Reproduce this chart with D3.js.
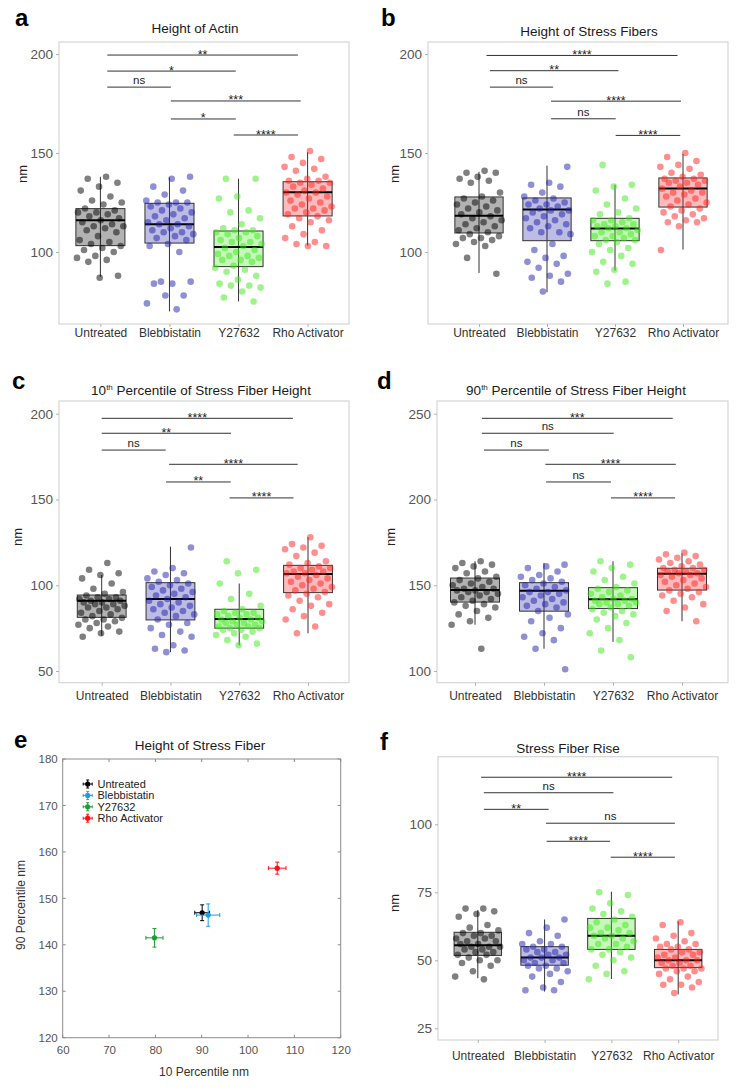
<!DOCTYPE html>
<html><head><meta charset="utf-8">
<script src="https://cdn.jsdelivr.net/npm/d3@7"></script>
<style>
body{margin:0;background:#fff}
svg{display:block}
text{font-family:"Liberation Sans",Arial,Helvetica,sans-serif}
</style>
</head><body>
<svg id="chart" width="738" height="1090"></svg>
<script>
// ---------------- DATA ----------------
const categories = ["Untreated", "Blebbistatin", "Y27632", "Rho Activator"];

// Panel a: Height of Actin (nm)
const actinUntreated = [138,137,135,133,131,128,126,125,124,122,121,120,120,119,118,117,116,115,114,113,113,112,111,110,108,106,105,104,103,102,101,100,98,97,96,95,88,87];
const actinBlebbistatin = [138,137,133,131,129,126,125,125,125,124,123,122,121,120,119,118,117,116,115,114,114,113,112,111,110,110,109,108,107,106,104,103,100,85,85,84,84,78,78,74,71];
const actinY27632 = [137,137,128,127,121,120,117,114,112,111,111,110,110,109,108,107,106,105,105,104,103,102,101,100,99,98,98,97,96,96,95,93,92,91,90,88,86,84,83,83,82,80,77,75];
const actinRho = [151,148,147,145,143,142,141,138,137,136,136,135,135,134,133,132,131,130,130,129,128,127,126,125,124,123,122,122,121,120,119,118,117,116,115,113,111,109,107,105,104,103,103];
// box stats: [q1, median, q3, whiskerLow, whiskerHigh]
const actinBoxes = [[103.2,116,121.9,87.5,138],[104.5,114,124.6,70,137.7],[92.6,102.5,110.6,75,137],[118.2,130.2,135.5,103.2,150.4]];
// significance: [fromIndex, toIndex, yValue, label]
const actinSig = [[0.1,2.86,199.5,"**"],[0.1,1.96,191.4,"*"],[0.1,1.02,183.3,"ns"],[1.02,2.9,176.3,"***"],[1.02,1.96,167.2,"*"],[1.93,2.86,159.1,"****"]];

// Panel b: Height of Stress Fibers (nm)
const fiberUntreated = [141,140,140,138,137,136,135,130,128,127,126,125,124,123,122,121,120,119,118,117,116,115,114,113,112,111,110,109,108,107,107,106,105,104,103,97,89];
const fiberBlebbistatin = [143,135,134,133,130,128,127,126,125,124,124,123,122,121,121,120,119,118,117,116,115,114,113,112,110,110,109,104,101,98,97,95,94,92,89,88,87,85,80];
const fiberY27632 = [144,134,133,131,127,124,122,120,119,117,116,116,115,114,114,113,113,112,112,111,110,110,109,108,108,107,106,106,105,104,102,101,100,98,95,94,91,90,85,84];
const fiberRho = [150,148,146,144,143,142,140,139,138,137,137,136,136,135,135,134,133,132,131,130,130,129,128,127,126,125,124,123,122,121,120,119,118,117,116,115,115,113,101];
const fiberBoxes = [[109.6,118.3,127.8,89.4,140.5],[105.7,121.4,127.3,79.6,143.6],[105.7,111.8,117,90.6,134],[122.7,132.1,137.4,101.2,149.6]];
const fiberSig = [[0.11,2.92,199.3,"****"],[0.16,2.05,191.6,"**"],[0.16,1.09,183.3,"ns"],[1.06,2.97,176.2,"****"],[1.06,2.01,167.3,"ns"],[2.01,2.96,158.9,"****"]];

// Panel c: 10th percentile of stress fiber height (nm)
const p10Untreated = [113,109,107,106,104,101,98,96,95,94,93,93,92,92,91,91,90,90,89,89,88,87,87,86,85,84,83,82,81,80,80,79,78,77,76,75,73,72,70];
const p10Blebbistatin = [122,110,108,107,106,104,103,102,101,100,99,98,97,96,95,94,93,92,91,90,89,88,87,86,85,84,83,82,80,78,77,75,73,71,70,65,63,62,61];
const p10Y27632 = [114,109,107,101,95,92,88,86,85,84,84,83,83,82,81,81,80,80,79,79,78,78,77,77,76,76,75,75,74,74,73,72,71,70,68,66,65];
const p10Rho = [128,124,123,122,121,119,117,114,113,112,111,110,110,109,108,108,107,107,106,105,104,103,102,101,100,99,98,97,96,95,94,93,91,89,88,86,84,82,80,76,72];
const p10Boxes = [[81.3,90.9,94.3,70.5,106],[79.8,92,101.5,61,122.5],[75,80.4,86,65,101],[95.7,106.6,111.6,72,128]];
const p10Sig = [[0,2.78,197.3,"****"],[0,1.88,188.6,"**"],[0,0.93,178.8,"ns"],[0.98,2.85,170.5,"****"],[0.935,1.876,160.2,"**"],[1.86,2.79,150.9,"****"]];

// Panel d: 90th percentile of stress fiber height (nm)
const p90Untreated = [164,163,162,161,160,158,157,155,154,153,152,151,150,149,148,148,147,147,146,146,145,144,143,142,141,140,139,138,137,135,133,131,129,127,113];
const p90Blebbistatin = [162,161,160,158,156,155,154,153,152,151,150,149,148,147,146,146,145,144,143,142,141,140,139,138,137,135,133,131,129,125,122,120,118,113,101];
const p90Y27632 = [164,162,160,158,155,153,151,149,148,147,146,145,144,143,142,142,141,141,140,140,139,139,138,137,136,135,134,133,132,130,128,125,122,118,112,108];
const p90Rho = [169,168,167,166,165,164,163,162,161,160,160,159,159,158,158,157,157,156,156,155,154,153,152,151,150,149,148,147,146,145,144,143,141,139,137,135,129];
const p90Boxes = [[140.2,147.2,154.2,127,164],[134.9,146.8,151.5,113,163],[136.4,141.9,148.6,117,164],[147.2,156.7,159.9,129,168.6]];
const p90Sig = [[0.1,2.865,247.3,"***"],[0.1,2.01,238.6,"ns"],[0.13,1.07,228.8,"ns"],[1.02,2.91,220.5,"****"],[1.03,1.97,210.2,"ns"],[1.97,2.9,200.9,"****"]];

// Panel e: mean 10th vs 90th percentile with error bars
const scatterX = [90.1, 91.4, 79.8, 106.3];
const scatterY = [146.9, 146.4, 141.5, 156.5];
const scatterXErr = [1.6, 2.5, 1.85, 1.9];
const scatterYErr = [1.7, 2.4, 2.0, 1.3];
const scatterXTicks = [60,70,80,90,100,110,120];
const scatterYTicks = [120,130,140,150,160,170,180];

// Panel f: Stress Fiber Rise (nm)
const riseUntreated = [69,69,68,67,66,63,62,61,60,60,59,59,58,58,57,57,56,56,55,55,55,54,54,53,53,52,52,51,50,50,49,48,46,44,43];
const riseBlebbistatin = [65,62,60,59,57,56,56,55,55,54,54,53,53,52,52,51,51,51,50,50,49,49,48,48,47,47,46,45,44,42,40,39,39];
const riseY27632 = [75,74,71,69,68,67,66,65,64,63,62,62,61,60,60,59,59,58,58,57,56,56,55,54,54,53,52,51,50,48,46,45,43];
const riseRho = [64,63,60,59,58,57,56,56,55,55,54,54,53,53,52,52,51,51,50,50,50,49,49,48,48,47,47,47,46,46,45,44,43,42,41,41,40,38];
const riseBoxes = [[51.8,55.5,60.3,43.4,68.5],[48.2,51,55,38.5,65],[54,59,65.4,43.1,75.2],[47.3,50,54,37.5,64.3]];
const riseSig = [[0.05,2.91,117.3,"****"],[0.09,2.03,111.6,"ns"],[0.09,1.06,105.5,"**"],[1.02,2.95,100.4,"ns"],[1.03,1.98,93.75,"****"],[1.99,2.95,87.9,"****"]];

const ticksAB = [100,150,200];
const ticksC = [50,100,150,200];
const ticksD = [100,150,200,250];
const ticksF = [25,50,75,100];

// ---------------- STYLE ----------------
const baseColors = ["#000000","#2020a8","#3fe81a","#ff1f1f"];
const scatterColors = ["#000000","#1b9fe2","#16a033","#ff1010"];
const svg = d3.select("#chart");

const panels = [
  {letter:"a", lx:15, ly:26, title:["Height of Actin"], tx:195, ty:33,
   pts:[actinUntreated,actinBlebbistatin,actinY27632,actinRho], box:actinBoxes, sig:actinSig,
   left:59, right:349, top:42, bottom:324, dom:[63.6,206.1], cx:[100.4,307.6], ticks:ticksAB,
   nmx:22, nmy:174, xly:337},
  {letter:"b", lx:381, ly:26, title:["Height of Stress Fibers"], tx:589, ty:36,
   pts:[fiberUntreated,fiberBlebbistatin,fiberY27632,fiberRho], box:fiberBoxes, sig:fiberSig,
   left:428, right:728, top:42, bottom:324, dom:[63.6,206.1], cx:[479,683], ticks:ticksAB,
   nmx:394, nmy:174, xly:337},
  {letter:"c", lx:12, ly:389, title:["10","th"," Percentile of Stress Fiber Height"], tx:201, ty:395,
   pts:[p10Untreated,p10Blebbistatin,p10Y27632,p10Rho], box:p10Boxes, sig:p10Sig,
   left:59, right:349, top:401, bottom:682.7, dom:[43.2,207.4], cx:[101.7,308], ticks:ticksC,
   nmx:17, nmy:537, xly:700},
  {letter:"d", lx:377, ly:389, title:["90","th"," Percentile of Stress Fiber Height"], tx:576, ty:395,
   pts:[p90Untreated,p90Blebbistatin,p90Y27632,p90Rho], box:p90Boxes, sig:p90Sig,
   left:437, right:728, top:401, bottom:682.7, dom:[93.2,257.4], cx:[475,682], ticks:ticksD,
   nmx:390, nmy:537, xly:700},
  {letter:"f", lx:380, ly:750, title:["Stress Fiber Rise"], tx:568, ty:753,
   pts:[riseUntreated,riseBlebbistatin,riseY27632,riseRho], box:riseBoxes, sig:riseSig,
   left:438, right:718, top:756.7, bottom:1040, dom:[20.7,124.85], cx:[477.8,678.2], ticks:ticksF,
   nmx:394, nmy:903, xly:1060}
];

function drawBoxPanel(p){
  const g = svg.append("g");
  const y = d3.scaleLinear().domain(p.dom).range([p.bottom, p.top]);
  const x = d3.scalePoint().domain(categories).range(p.cx);
  const xi = d3.scaleLinear().domain([0,3]).range(p.cx);
  const step = (p.cx[1]-p.cx[0])/3;
  const bw = step*0.71;

  // panel letter & title
  g.append("text").attr("x",p.lx).attr("y",p.ly).attr("font-size",24).attr("font-weight","bold")
    .attr("fill","#000").text(p.letter);
  const t = g.append("text").attr("x",p.tx).attr("y",p.ty).attr("text-anchor","middle")
    .attr("font-size",13.5).attr("fill","#1a1a1a");
  if(p.title.length===1){ t.text(p.title[0]); }
  else {
    t.append("tspan").text(p.title[0]);
    t.append("tspan").attr("font-size",8).attr("dy",-5).text(p.title[1]);
    t.append("tspan").attr("dy",5).text(p.title[2]);
  }

  // panel border
  g.append("rect").attr("x",p.left).attr("y",p.top).attr("width",p.right-p.left).attr("height",p.bottom-p.top)
    .attr("fill","#fff").attr("stroke","#d6d6d6").attr("stroke-width",1.2);

  // y axis
  const ya = d3.axisLeft(y).tickValues(p.ticks).tickSize(3).tickPadding(3).tickFormat(d3.format("d"));
  const yg = g.append("g").attr("transform",`translate(${p.left},0)`).call(ya);
  yg.select(".domain").remove();
  yg.selectAll("line").attr("stroke","#b0b0b0");
  yg.selectAll("text").attr("font-size",13.5).attr("fill","#555").attr("font-family",'"Liberation Sans",Arial,sans-serif');

  // x axis
  const xa = d3.axisBottom(x).tickSize(3).tickPadding(4);
  const xg = g.append("g").attr("transform",`translate(0,${p.bottom})`).call(xa);
  xg.select(".domain").remove();
  xg.selectAll("line").attr("stroke","#b0b0b0");
  xg.selectAll("text").attr("font-size",12).attr("fill","#333").attr("font-family",'"Liberation Sans",Arial,sans-serif')
    .attr("dy",null).attr("y",p.xly-p.bottom);

  // y label
  g.append("text").attr("transform",`translate(${p.nmx},${p.nmy}) rotate(-90)`).attr("text-anchor","middle")
    .attr("dy","0.35em").attr("font-size",13).attr("fill","#222").text("nm");

  // boxes
  p.box.forEach((b,i)=>{
    const cx = x(categories[i]);
    const bg = g.append("g");
    bg.append("line").attr("x1",cx).attr("x2",cx).attr("y1",y(b[4])).attr("y2",y(b[3]))
      .attr("stroke","#333").attr("stroke-width",1);
    bg.append("rect").attr("x",cx-bw/2).attr("width",bw).attr("y",y(b[2])).attr("height",y(b[0])-y(b[2]))
      .attr("fill",baseColors[i]).attr("fill-opacity",0.3).attr("stroke","#333").attr("stroke-width",1);
    bg.append("line").attr("x1",cx-bw/2).attr("x2",cx+bw/2).attr("y1",y(b[1])).attr("y2",y(b[1]))
      .attr("stroke","#000").attr("stroke-width",2);
  });

  // jittered points (deterministic spread)
  p.pts.forEach((arr,i)=>{
    const cx = x(categories[i]);
    g.append("g").selectAll("circle").data(arr).join("circle")
      .attr("cx",(d,j)=> cx + ((((j+1)*0.6180339887 + i*0.31) % 1) - 0.5) * bw * 0.98)
      .attr("cy",d=>y(d)).attr("r",3.3)
      .attr("fill",baseColors[i]).attr("fill-opacity",0.5);
  });

  // significance bars
  p.sig.forEach(s=>{
    const x1 = xi(s[0]), x2 = xi(s[1]), yy = y(s[2]);
    g.append("line").attr("x1",x1).attr("x2",x2).attr("y1",yy).attr("y2",yy)
      .attr("stroke","#333").attr("stroke-width",1);
    const isNs = s[3]==="ns";
    g.append("text").attr("x",(x1+x2)/2).attr("y", isNs ? yy-3 : yy+3.5)
      .attr("text-anchor","middle").attr("font-size", isNs ? 11.5 : 12.5).attr("fill","#222").text(s[3]);
  });
}
panels.forEach(drawBoxPanel);

// ---------------- Panel e ----------------
(function(){
  const L=62.7,R=340.7,T=759,B=1037.7;
  const g = svg.append("g");
  const x = d3.scaleLinear().domain([60,120]).range([L,R]);
  const y = d3.scaleLinear().domain([120,180]).range([B,T]);
  g.append("text").attr("x",14).attr("y",748).attr("font-size",24).attr("font-weight","bold").text("e");
  g.append("text").attr("x",200).attr("y",750).attr("text-anchor","middle").attr("font-size",13.5).attr("fill","#1a1a1a")
    .text("Height of Stress Fiber");
  g.append("rect").attr("x",L).attr("y",T).attr("width",R-L).attr("height",B-T).attr("fill","#fff")
    .attr("stroke","#8c8c8c").attr("stroke-width",1);
  // ticks inside, all four sides
  scatterXTicks.forEach(v=>{
    g.append("line").attr("x1",x(v)).attr("x2",x(v)).attr("y1",B).attr("y2",B-3).attr("stroke","#8c8c8c");
    g.append("line").attr("x1",x(v)).attr("x2",x(v)).attr("y1",T).attr("y2",T+3).attr("stroke","#8c8c8c");
  });
  scatterYTicks.forEach(v=>{
    g.append("line").attr("x1",L).attr("x2",L+3).attr("y1",y(v)).attr("y2",y(v)).attr("stroke","#8c8c8c");
    g.append("line").attr("x1",R).attr("x2",R-3).attr("y1",y(v)).attr("y2",y(v)).attr("stroke","#8c8c8c");
  });
  const xa = d3.axisBottom(x).tickValues(scatterXTicks).tickSize(0).tickPadding(8);
  const xg = g.append("g").attr("transform",`translate(0,${B})`).call(xa);
  xg.select(".domain").remove();
  xg.selectAll("text").attr("font-size",11.5).attr("fill","#555").attr("font-family",'"Liberation Sans",Arial,sans-serif');
  const ya = d3.axisLeft(y).tickValues(scatterYTicks).tickSize(0).tickPadding(5);
  const yg = g.append("g").attr("transform",`translate(${L},0)`).call(ya);
  yg.select(".domain").remove();
  yg.selectAll("text").attr("font-size",11.5).attr("fill","#555").attr("font-family",'"Liberation Sans",Arial,sans-serif');
  g.append("text").attr("x",204).attr("y",1076).attr("text-anchor","middle").attr("font-size",12).attr("fill","#333")
    .text("10 Percentile nm");
  g.append("text").attr("transform","translate(21,905) rotate(-90)").attr("text-anchor","middle").attr("dy","0.35em")
    .attr("font-size",12).attr("fill","#333").text("90 Percentile nm");

  function errMark(gg,cx,cy,ex,ey,col,cap){
    gg.append("line").attr("x1",cx-ex).attr("x2",cx+ex).attr("y1",cy).attr("y2",cy).attr("stroke",col).attr("stroke-width",1);
    gg.append("line").attr("x1",cx).attr("x2",cx).attr("y1",cy-ey).attr("y2",cy+ey).attr("stroke",col).attr("stroke-width",1);
    gg.append("line").attr("x1",cx-ex).attr("x2",cx-ex).attr("y1",cy-cap).attr("y2",cy+cap).attr("stroke",col);
    gg.append("line").attr("x1",cx+ex).attr("x2",cx+ex).attr("y1",cy-cap).attr("y2",cy+cap).attr("stroke",col);
    gg.append("line").attr("x1",cx-cap).attr("x2",cx+cap).attr("y1",cy-ey).attr("y2",cy-ey).attr("stroke",col);
    gg.append("line").attr("x1",cx-cap).attr("x2",cx+cap).attr("y1",cy+ey).attr("y2",cy+ey).attr("stroke",col);
    gg.append("circle").attr("cx",cx).attr("cy",cy).attr("r",2.6).attr("fill",col);
  }
  scatterX.forEach((v,i)=>{
    const cx=x(v), cy=y(scatterY[i]);
    const ex = x(v+scatterXErr[i])-cx, ey = cy - y(scatterY[i]+scatterYErr[i]);
    errMark(g,cx,cy,ex,ey,scatterColors[i],2);
  });
  // legend
  categories.forEach((c,i)=>{
    const ly = 784 + i*11.4;
    errMark(g,87.7,ly,4.5,4,scatterColors[i],1.5);
    g.append("text").attr("x",97.5).attr("y",ly).attr("dy","0.35em").attr("font-size",11).attr("fill","#222").text(c);
  });
})();
</script>
</body></html>
